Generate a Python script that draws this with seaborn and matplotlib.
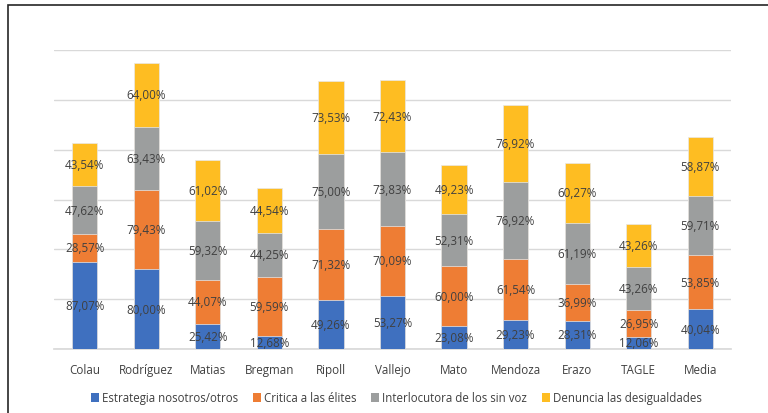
import numpy as np
import pandas as pd
import matplotlib
matplotlib.use("Agg")
import matplotlib.pyplot as plt
from matplotlib.patches import Patch, Rectangle
import seaborn as sns

categories = ["Colau", "Rodríguez", "Matias", "Bregman", "Ripoll", "Vallejo",
              "Mato", "Mendoza", "Erazo", "TAGLE", "Media"]
series_names = ["Estrategia nosotros/otros", "Critica a las élites",
                "Interlocutora de los sin voz", "Denuncia las desigualdades"]
estrategia = [87.07, 80.00, 25.42, 12.68, 49.26, 53.27, 23.08, 29.23, 28.31, 12.06, 40.04]
critica = [28.57, 79.43, 44.07, 59.59, 71.32, 70.09, 60.00, 61.54, 36.99, 26.95, 53.85]
interlocutora = [47.62, 63.43, 59.32, 44.25, 75.00, 73.83, 52.31, 76.92, 61.19, 43.26, 59.71]
denuncia = [43.54, 64.00, 61.02, 44.54, 73.53, 72.43, 49.23, 76.92, 60.27, 43.26, 58.87]
colors = ["#3F70BF", "#EE7D34", "#9C9E9E", "#FEBD22"]

sns.set_theme(style="white")
plt.rcParams["font.family"] = ["Open Sans", "DejaVu Sans"]

values = np.array([estrategia, critica, interlocutora, denuncia])
tops = np.cumsum(values, axis=0)
bottoms = tops - values

fig = plt.figure(figsize=(7.68, 4.14), dpi=100)
ax = fig.add_axes([54 / 768, 1 - 350 / 414, (731 - 54) / 768, (350 - 51) / 414])

# stacked bars: draw cumulative totals from the top series down
for i in range(3, -1, -1):
    df = pd.DataFrame({"cat": categories, "val": tops[i]})
    sns.barplot(data=df, x="cat", y="val", color=colors[i], width=0.41,
                saturation=1, edgecolor="#E8E8E8", linewidth=0.5, ax=ax, zorder=3)

for i in range(4):
    for j, cat in enumerate(categories):
        v = values[i][j]
        ax.text(j, bottoms[i][j] + v / 2, f"{v:.2f}%".replace(".", ","),
                ha="center", va="center", fontsize=8.4, color="#404040", zorder=5)

ax.set_ylim(0, 300)
ax.set_xlim(-0.5, len(categories) - 0.5)
ax.set_yticks(np.arange(0, 301, 50))
ax.yaxis.grid(True, color="#D9D9D9", linewidth=1.0, zorder=0)
ax.set_axisbelow(True)
ax.tick_params(axis="y", left=False, labelleft=False)
ax.tick_params(axis="x", bottom=False, labelsize=8.4, labelcolor="#404040", pad=4)
ax.set_xlabel("")
ax.set_ylabel("")
for s in ["top", "right", "left"]:
    ax.spines[s].set_visible(False)
ax.spines["bottom"].set_color("#D9D9D9")

handles = [Patch(facecolor=c, edgecolor="none") for c in colors]
fig.legend(handles, series_names, loc="center", bbox_to_anchor=(0.516, 1 - 399 / 414),
           ncol=4, frameon=False, fontsize=8.3, handlelength=0.7, handleheight=0.7,
           handletextpad=0.25, columnspacing=1.3, labelcolor="#404040")

fig.patches.append(Rectangle((8 / 768, -0.05), 1.1, 1 - 6 / 414 + 0.05,
                             transform=fig.transFigure, fill=False,
                             edgecolor="#262626", linewidth=1.2))

fig.savefig("out.png", dpi=100)
